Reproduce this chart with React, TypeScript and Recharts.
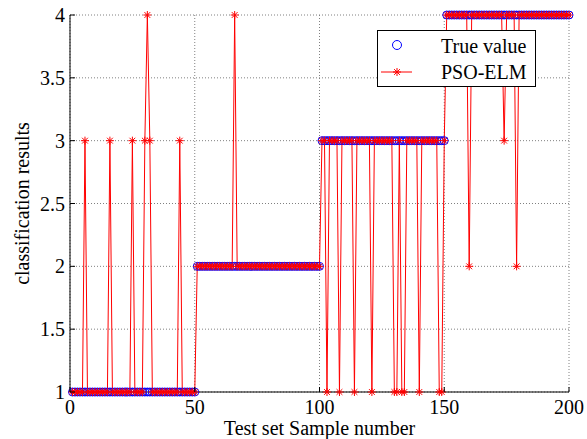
import React from 'react';
import { LineChart, Line, XAxis, YAxis, CartesianGrid } from 'recharts';

// True class labels for test samples 1..200
const trueValue: number[] = [
  1, 1, 1, 1, 1, 1, 1, 1, 1, 1,
  1, 1, 1, 1, 1, 1, 1, 1, 1, 1,
  1, 1, 1, 1, 1, 1, 1, 1, 1, 1,
  1, 1, 1, 1, 1, 1, 1, 1, 1, 1,
  1, 1, 1, 1, 1, 1, 1, 1, 1, 1,
  2, 2, 2, 2, 2, 2, 2, 2, 2, 2,
  2, 2, 2, 2, 2, 2, 2, 2, 2, 2,
  2, 2, 2, 2, 2, 2, 2, 2, 2, 2,
  2, 2, 2, 2, 2, 2, 2, 2, 2, 2,
  2, 2, 2, 2, 2, 2, 2, 2, 2, 2,
  3, 3, 3, 3, 3, 3, 3, 3, 3, 3,
  3, 3, 3, 3, 3, 3, 3, 3, 3, 3,
  3, 3, 3, 3, 3, 3, 3, 3, 3, 3,
  3, 3, 3, 3, 3, 3, 3, 3, 3, 3,
  3, 3, 3, 3, 3, 3, 3, 3, 3, 3,
  4, 4, 4, 4, 4, 4, 4, 4, 4, 4,
  4, 4, 4, 4, 4, 4, 4, 4, 4, 4,
  4, 4, 4, 4, 4, 4, 4, 4, 4, 4,
  4, 4, 4, 4, 4, 4, 4, 4, 4, 4,
  4, 4, 4, 4, 4, 4, 4, 4, 4, 4,
];

// PSO-ELM predicted class labels for test samples 1..200
const psoElm: number[] = [
  1, 1, 1, 1, 1, 3, 1, 1, 1, 1,
  1, 1, 1, 1, 1, 3, 1, 1, 1, 1,
  1, 1, 1, 1, 3, 1, 1, 1, 1, 3,
  4, 3, 1, 1, 1, 1, 1, 1, 1, 1,
  1, 1, 1, 3, 1, 1, 1, 1, 1, 1,
  2, 2, 2, 2, 2, 2, 2, 2, 2, 2,
  2, 2, 2, 2, 2, 4, 2, 2, 2, 2,
  2, 2, 2, 2, 2, 2, 2, 2, 2, 2,
  2, 2, 2, 2, 2, 2, 2, 2, 2, 2,
  2, 2, 2, 2, 2, 2, 2, 2, 2, 2,
  3, 3, 1, 3, 3, 3, 3, 1, 3, 3,
  3, 3, 3, 1, 3, 3, 3, 3, 3, 3,
  1, 3, 3, 3, 3, 3, 3, 3, 3, 1,
  1, 3, 1, 1, 3, 3, 3, 3, 3, 1,
  3, 3, 3, 3, 3, 3, 3, 1, 1, 3,
  4, 4, 4, 4, 4, 4, 4, 4, 4, 2,
  4, 4, 4, 4, 4, 4, 4, 4, 4, 4,
  4, 4, 4, 3, 4, 4, 4, 4, 2, 4,
  4, 4, 4, 4, 4, 4, 4, 4, 4, 4,
  4, 4, 4, 4, 4, 4, 4, 4, 4, 4,
];

const xTicks = [0, 50, 100, 150, 200];
const xTickLabels = ['0', '50', '100', '150', '200'];
const yTicks = [1, 1.5, 2, 2.5, 3, 3.5, 4];
const yTickLabels = ['1', '1.5', '2', '2.5', '3', '3.5', '4'];

const seriesNames = ['True value', 'PSO-ELM'];
const xLabel = 'Test set Sample number';
const yLabel = 'classification results';

const data = trueValue.map((t, i) => ({ x: i + 1, trueValue: t, psoElm: psoElm[i] }));

const FONT = 'Liberation Serif, Times New Roman, serif';
const FS = 20;
const BLUE = '#0000ff';
const RED = '#ff0000';

const Asterisk = (props: any) => {
  const { cx, cy } = props;
  if (cx == null || cy == null) return null;
  const s = 4;
  const d = 2.9;
  return (
    <g stroke={RED} strokeWidth={1} fill="none">
      <line x1={cx - s} y1={cy} x2={cx + s} y2={cy} />
      <line x1={cx} y1={cy - s} x2={cx} y2={cy + s} />
      <line x1={cx - d} y1={cy - d} x2={cx + d} y2={cy + d} />
      <line x1={cx - d} y1={cy + d} x2={cx + d} y2={cy - d} />
    </g>
  );
};

const Circle = (props: any) => {
  const { cx, cy } = props;
  if (cx == null || cy == null) return null;
  return <circle cx={cx} cy={cy} r={4} stroke={BLUE} strokeWidth={1} fill="none" />;
};

const BottomTick = (props: any) => {
  const { x, y, payload } = props;
  const idx = xTicks.indexOf(payload.value);
  return (
    <g>
      <line x1={x} y1={y} x2={x} y2={y - 5} stroke="#000" />
      <text x={x} y={y + 22} textAnchor="middle" fontSize={FS} fontFamily={FONT} fill="#000">
        {idx >= 0 ? xTickLabels[idx] : String(payload.value)}
      </text>
    </g>
  );
};

const TopTick = (props: any) => {
  const { x, y } = props;
  return <line x1={x} y1={y} x2={x} y2={y + 5} stroke="#000" />;
};

const LeftTick = (props: any) => {
  const { x, y, payload } = props;
  const idx = yTicks.indexOf(payload.value);
  return (
    <g>
      <line x1={x} y1={y} x2={x + 5} y2={y} stroke="#000" />
      <text x={x - 5} y={y + 7} textAnchor="end" fontSize={FS} fontFamily={FONT} fill="#000">
        {idx >= 0 ? yTickLabels[idx] : String(payload.value)}
      </text>
    </g>
  );
};

const RightTick = (props: any) => {
  const { x, y } = props;
  return <line x1={x} y1={y} x2={x - 5} y2={y} stroke="#000" />;
};

const YLabelContent = (props: any) => {
  const vb = props.viewBox || { x: 0, y: 15, width: 70, height: 377 };
  const cx = 29;
  const cy = vb.y + vb.height / 2;
  return (
    <text
      x={cx}
      y={cy}
      transform={`rotate(-90, ${cx}, ${cy})`}
      textAnchor="middle"
      fontSize={FS}
      fontFamily={FONT}
      fill="#000"
    >
      {yLabel}
    </text>
  );
};

const XLabelContent = (props: any) => {
  const vb = props.viewBox || { x: 70, y: 392, width: 499, height: 47 };
  const cx = vb.x + vb.width / 2;
  return (
    <text x={cx} y={vb.y + 43} textAnchor="middle" fontSize={FS} fontFamily={FONT} fill="#000">
      {xLabel}
    </text>
  );
};

const LegendBox = () => (
  <svg
    width={162}
    height={58}
    style={{ position: 'absolute', left: 377, top: 30, pointerEvents: 'none' }}
  >
    <rect x={0.5} y={0.5} width={158} height={56} fill="#fff" stroke="#000" strokeWidth={1} />
    <circle cx={20} cy={15} r={4.5} stroke={BLUE} fill="none" strokeWidth={1} />
    <text x={64} y={22.5} fontSize={FS} fontFamily={FONT} fill="#000">
      {seriesNames[0]}
    </text>
    <line x1={4} y1={42} x2={35} y2={42} stroke={RED} strokeWidth={1} />
    <Asterisk cx={20} cy={42} />
    <text x={64} y={48.5} fontSize={FS} fontFamily={FONT} fill="#000">
      {seriesNames[1]}
    </text>
  </svg>
);

export default function App() {
  return (
    <div style={{ position: 'absolute', left: 0, top: 0, width: 587, height: 439, background: '#fff' }}>
      <LineChart
        width={587}
        height={439}
        data={data}
        margin={{ top: 15, right: 18, bottom: 0, left: 0 }}
      >
        <CartesianGrid stroke="#808080" strokeDasharray="1 2" strokeWidth={1} />
        <XAxis
          dataKey="x"
          type="number"
          domain={[0, 200]}
          ticks={xTicks}
          height={47}
          axisLine={{ stroke: '#000' }}
          tickLine={false}
          tickSize={0}
          tickMargin={0}
          tick={<BottomTick />}
          interval={0}
          allowDecimals={false}
          label={{ content: XLabelContent }}
        />
        <XAxis
          xAxisId="top"
          dataKey="x"
          type="number"
          orientation="top"
          domain={[0, 200]}
          ticks={xTicks}
          height={0}
          axisLine={{ stroke: '#000' }}
          tickLine={false}
          tickSize={0}
          tickMargin={0}
          tick={<TopTick />}
          interval={0}
        />
        <YAxis
          type="number"
          domain={[1, 4]}
          ticks={yTicks}
          width={70}
          axisLine={{ stroke: '#000' }}
          tickLine={false}
          tickSize={0}
          tickMargin={0}
          tick={<LeftTick />}
          interval={0}
          label={{ content: YLabelContent }}
        />
        <YAxis
          yAxisId="right"
          type="number"
          orientation="right"
          domain={[1, 4]}
          ticks={yTicks}
          width={0}
          axisLine={{ stroke: '#000' }}
          tickLine={false}
          tickSize={0}
          tickMargin={0}
          tick={<RightTick />}
          interval={0}
        />
        <Line
          dataKey="trueValue"
          name={seriesNames[0]}
          stroke="none"
          strokeWidth={0}
          dot={<Circle />}
          activeDot={false}
          isAnimationActive={false}
        />
        <Line
          dataKey="psoElm"
          name={seriesNames[1]}
          type="linear"
          stroke={RED}
          strokeWidth={1}
          dot={<Asterisk />}
          activeDot={false}
          isAnimationActive={false}
        />
      </LineChart>
      <LegendBox />
    </div>
  );
}
